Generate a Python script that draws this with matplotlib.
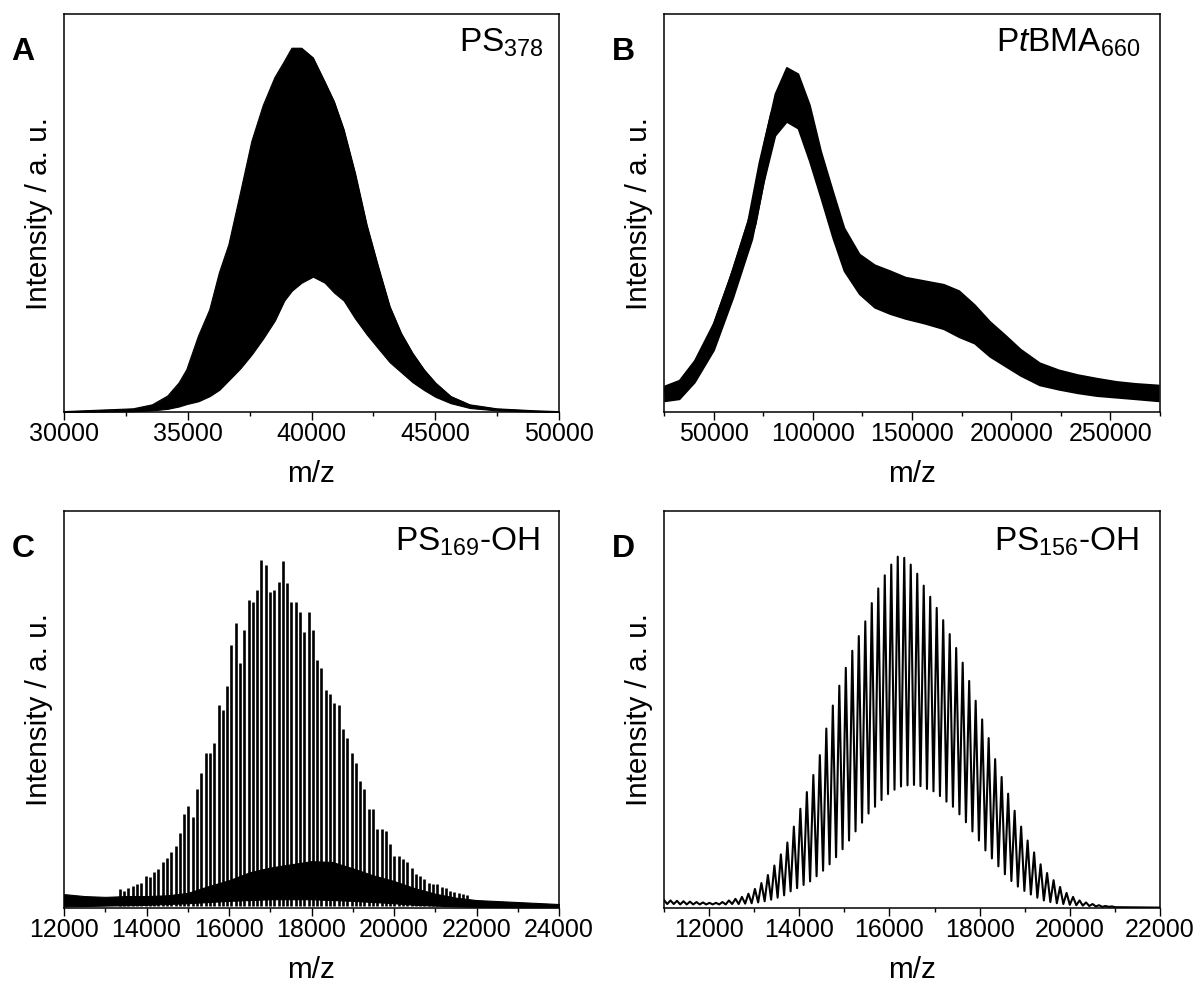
import matplotlib
matplotlib.use("Agg")
import matplotlib.pyplot as plt
from matplotlib.ticker import MultipleLocator

plt.rcParams['font.family'] = ['Liberation Sans', 'DejaVu Sans']
plt.rcParams['mathtext.fontset'] = 'custom'
plt.rcParams['mathtext.rm'] = 'Liberation Sans'
plt.rcParams['mathtext.it'] = 'Liberation Sans:italic'
plt.rcParams['mathtext.bf'] = 'Liberation Sans:bold'

# ---------------- Panel A: PS378 (envelopes of the dense peak series) ----------------
a_mz = [30000, 32800, 33570, 34190, 34650, 34960, 35430, 35890, 36280, 36660, 37130,
        37590, 38050, 38520, 38900, 39210, 39600, 40060, 40530, 40910, 41300, 41760,
        42230, 42690, 43160, 43620, 44080, 44550, 45010, 45630, 46400, 47490, 49030, 50000]
a_top = [0.001, 0.008, 0.018, 0.040, 0.073, 0.106, 0.190, 0.257, 0.350, 0.420, 0.550,
         0.680, 0.770, 0.840, 0.880, 0.914, 0.914, 0.890, 0.830, 0.780, 0.710, 0.600,
         0.470, 0.366, 0.265, 0.198, 0.148, 0.106, 0.073, 0.039, 0.018, 0.008, 0.003, 0.001]
a_bot = [0.000, 0.002, 0.004, 0.008, 0.014, 0.020, 0.027, 0.040, 0.056, 0.080, 0.110,
         0.145, 0.185, 0.230, 0.280, 0.305, 0.325, 0.340, 0.325, 0.300, 0.280, 0.235,
         0.195, 0.160, 0.125, 0.100, 0.075, 0.055, 0.038, 0.022, 0.010, 0.004, 0.001, 0.000]

# ---------------- Panel B: PtBMA660 (noisy band) ----------------
b_mz = [25300, 32600, 40300, 50000, 59700, 69300, 75100, 80900, 86700, 92500, 98300,
        104000, 110000, 115700, 123400, 131100, 138900, 146600, 156300, 165900, 173600,
        181400, 189100, 196800, 204600, 214200, 223900, 233500, 243200, 252900, 262500, 274100]
b_top = [0.066, 0.080, 0.130, 0.225, 0.362, 0.515, 0.672, 0.800, 0.866, 0.850, 0.772,
         0.655, 0.555, 0.463, 0.397, 0.370, 0.355, 0.339, 0.330, 0.321, 0.305,
         0.270, 0.228, 0.194, 0.158, 0.124, 0.106, 0.094, 0.085, 0.077, 0.072, 0.068]
b_bot = [0.028, 0.033, 0.075, 0.156, 0.288, 0.435, 0.578, 0.695, 0.730, 0.713, 0.630,
         0.538, 0.438, 0.355, 0.297, 0.263, 0.247, 0.235, 0.223, 0.209, 0.189,
         0.173, 0.140, 0.116, 0.092, 0.068, 0.057, 0.048, 0.041, 0.037, 0.033, 0.028]

# ---------------- Panel C: PS169-OH (resolved peaks) ----------------
c_peak_mz = [13354, 13458, 13562, 13666, 13770, 13874, 13978, 14082, 14186, 14290, 14394,
             14498, 14602, 14706, 14810, 14914, 15018, 15122, 15226, 15330, 15434, 15538,
             15642, 15746, 15850, 15954, 16058, 16162, 16266, 16370, 16474, 16578, 16682,
             16786, 16890, 16994, 17098, 17202, 17306, 17410, 17514, 17618, 17722, 17826,
             17930, 18034, 18138, 18242, 18346, 18450, 18554, 18658, 18762, 18866, 18970,
             19074, 19178, 19282, 19386, 19490, 19594, 19698, 19802, 19906, 20010, 20114,
             20218, 20322, 20426, 20530, 20634, 20738, 20842, 20946, 21050, 21154, 21258,
             21362, 21466, 21570, 21674, 21778]
c_peak_h = [0.048, 0.044, 0.050, 0.056, 0.060, 0.064, 0.081, 0.077, 0.090, 0.098, 0.115,
            0.127, 0.140, 0.156, 0.190, 0.236, 0.257, 0.228, 0.299, 0.340, 0.390, 0.390,
            0.416, 0.512, 0.500, 0.558, 0.663, 0.717, 0.617, 0.700, 0.776, 0.772, 0.800,
            0.876, 0.864, 0.797, 0.800, 0.820, 0.874, 0.818, 0.772, 0.772, 0.746, 0.696,
            0.746, 0.700, 0.625, 0.604, 0.550, 0.540, 0.516, 0.512, 0.450, 0.428, 0.390,
            0.366, 0.320, 0.300, 0.250, 0.250, 0.200, 0.200, 0.194, 0.160, 0.130, 0.130,
            0.123, 0.115, 0.102, 0.085, 0.081, 0.073, 0.064, 0.060, 0.060, 0.052, 0.050,
            0.044, 0.040, 0.037, 0.035, 0.032]
c_hump_mz = [12000, 12500, 13000, 13500, 14000, 14500, 15000, 15500, 16000, 16500, 17000,
             17500, 18000, 18500, 19000, 19500, 20000, 20500, 21000, 21500, 22000, 23000, 24000]
c_hump_top = [0.035, 0.030, 0.028, 0.030, 0.030, 0.032, 0.038, 0.055, 0.070, 0.090, 0.102,
              0.110, 0.118, 0.116, 0.100, 0.082, 0.068, 0.050, 0.036, 0.026, 0.020, 0.015, 0.010]
c_hump_bot = [0.004, 0.005, 0.006, 0.007, 0.008, 0.010, 0.012, 0.015, 0.018, 0.020, 0.022,
              0.022, 0.022, 0.020, 0.018, 0.015, 0.012, 0.008, 0.006, 0.004, 0.003, 0.002, 0.002]

# ---------------- Panel D: PS156-OH (oscillating trace: peak tops and valleys) ----------------
d_peak_mz = [11000, 11144, 11288, 11432, 11576, 11720, 11864, 12008, 12152, 12296, 12440,
             12584, 12728, 12872, 13016, 13160, 13304, 13448, 13592, 13736, 13880, 14024,
             14168, 14312, 14456, 14600, 14744, 14888, 15032, 15176, 15320, 15464, 15608,
             15752, 15896, 16040, 16184, 16328, 16472, 16616, 16760, 16904, 17048, 17192,
             17336, 17480, 17624, 17768, 17912, 18056, 18200, 18344, 18488, 18632, 18776,
             18920, 19064, 19208, 19352, 19496, 19640, 19784, 19928, 20072, 20216, 20360,
             20504, 20648, 20792, 20936]
d_peak_h = [0.020, 0.019, 0.018, 0.017, 0.016, 0.015, 0.014, 0.013, 0.013, 0.015, 0.019,
            0.023, 0.028, 0.036, 0.048, 0.063, 0.083, 0.107, 0.135, 0.165, 0.205, 0.250,
            0.292, 0.335, 0.385, 0.452, 0.510, 0.560, 0.605, 0.648, 0.685, 0.722, 0.768,
            0.805, 0.838, 0.865, 0.885, 0.882, 0.865, 0.842, 0.812, 0.784, 0.756, 0.725,
            0.690, 0.655, 0.618, 0.572, 0.522, 0.475, 0.428, 0.375, 0.330, 0.288, 0.245,
            0.205, 0.170, 0.140, 0.110, 0.088, 0.070, 0.053, 0.038, 0.028, 0.019, 0.014,
            0.010, 0.007, 0.005, 0.004]
d_valley_h = [0.010, 0.010, 0.009, 0.009, 0.009, 0.009, 0.009, 0.009, 0.009, 0.009, 0.010,
              0.010, 0.011, 0.012, 0.014, 0.017, 0.021, 0.026, 0.032, 0.042, 0.050, 0.058,
              0.067, 0.080, 0.094, 0.110, 0.128, 0.148, 0.170, 0.193, 0.215, 0.238, 0.255,
              0.272, 0.287, 0.298, 0.306, 0.309, 0.310, 0.307, 0.300, 0.294, 0.282, 0.268,
              0.255, 0.236, 0.216, 0.193, 0.170, 0.145, 0.125, 0.105, 0.085, 0.068, 0.054,
              0.043, 0.034, 0.026, 0.019, 0.015, 0.012, 0.010, 0.008, 0.007, 0.006, 0.005,
              0.004, 0.003, 0.003, 0.002]
d_tail_mz = [21100, 22000]
d_tail_h = [0.002, 0.001]

W, H = 1199, 992
fig = plt.figure(figsize=(W / 100, H / 100), dpi=100)

def make_ax(x0, y0, x1, y1):
    return fig.add_axes([x0 / W, 1 - y1 / H, (x1 - x0) / W, (y1 - y0) / H])

axA = make_ax(64, 14, 559, 412)
axB = make_ax(664, 14, 1160, 412)
axC = make_ax(64, 511, 559, 908)
axD = make_ax(664, 511, 1160, 908)

# A
axA.fill_between(a_mz, a_bot, a_top, color='black', linewidth=0.8)
axA.plot(a_mz, a_top, color='black', lw=0.8)

# B: band + thick centre trace
b_mid = [(t + b) / 2 for t, b in zip(b_top, b_bot)]
axB.fill_between(b_mz, b_bot, b_top, color='black', linewidth=1.2)
axB.plot(b_mz, b_mid, color='black', lw=7, solid_capstyle='butt')

# C
axC.fill_between(c_hump_mz, c_hump_bot, c_hump_top, color='black', linewidth=0.8)
axC.vlines(c_peak_mz, 0.006, c_peak_h, color='black', linewidth=1.9)

# D: zigzag trace (peak, valley, peak, ...)
half = (d_peak_mz[1] - d_peak_mz[0]) / 2
d_x, d_y = [], []
for mz, ph, vh in zip(d_peak_mz, d_peak_h, d_valley_h):
    d_x += [mz, mz + half]
    d_y += [ph, vh]
d_x += d_tail_mz
d_y += d_tail_h
axD.plot(d_x, d_y, color='black', lw=1.5)

settings = [
    (axA, (30000, 50000), 5000, 2500, 'A', r'PS$_{378}$', 0.970, 0.905),
    (axB, (25000, 275000), 50000, 25000, 'B', r'P$\mathit{t}$BMA$_{660}$', 0.960, 0.905),
    (axC, (12000, 24000), 2000, 1000, 'C', r'PS$_{169}$-OH', 0.962, 0.900),
    (axD, (11000, 22000), 2000, 1000, 'D', r'PS$_{156}$-OH', 0.958, 0.900),
]
for ax, xl, maj, mnr, letter, label, lx, ly in settings:
    ax.set_xlim(*xl)
    ax.set_ylim(0, 1)
    ax.xaxis.set_major_locator(MultipleLocator(maj))
    ax.xaxis.set_minor_locator(MultipleLocator(mnr))
    ax.set_yticks([])
    ax.tick_params(axis='x', which='major', direction='out', length=5.4, width=1.0,
                   labelsize=18, pad=1.8)
    ax.tick_params(axis='x', which='minor', direction='out', length=3.0, width=1.0)
    for s in ax.spines.values():
        s.set_linewidth(1.1)
    ax.set_xlabel('m/z', fontsize=21.3, labelpad=10)
    ax.set_ylabel('Intensity / a. u.', fontsize=21.3, labelpad=8)
    ax.text(lx, ly, label, transform=ax.transAxes, ha='right', va='baseline', fontsize=24)
    ax.text(-0.106, 0.885, letter, transform=ax.transAxes, ha='left', va='baseline',
            fontsize=23, fontweight='bold')

fig.savefig('out.png', dpi=100)
